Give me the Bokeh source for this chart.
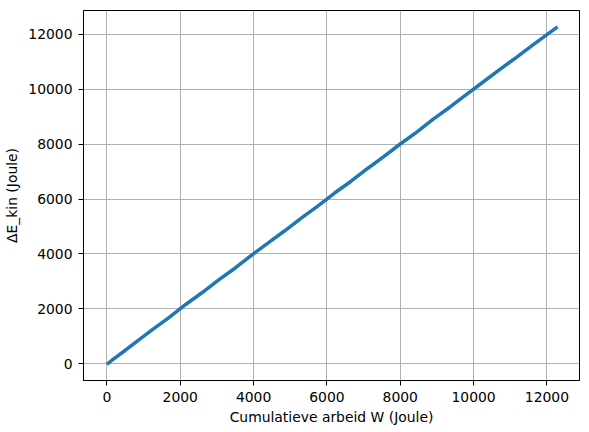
from bokeh.plotting import figure
from bokeh.models import FixedTicker, Range1d
from bokeh.embed import file_html
from bokeh.resources import INLINE

# Data (cumulative work W vs. change in kinetic energy)
W = [0, 160, 430, 800, 1250, 1700, 2150, 2600, 3050, 3500, 3950, 4400, 4850,
     5300, 5750, 6200, 6650, 7100, 7550, 8000, 8450, 8900, 9350, 9800, 10250,
     10700, 11150, 11600, 12000, 12290]
dE_kin = [-20, 150, 420, 795, 1255, 1690, 2160, 2595, 3055, 3490, 3960, 4405,
          4845, 5305, 5745, 6210, 6640, 7105, 7545, 8005, 8440, 8910, 9345,
          9800, 10255, 10705, 11145, 11600, 11990, 12270]
ticks = [0, 2000, 4000, 6000, 8000, 10000, 12000]
x_label = "Cumulatieve arbeid W (Joule)"
y_label = "ΔE_kin (Joule)"

FONT = "DejaVu Sans"
FS = "13.9px"

p = figure(width=583, height=430, output_backend="svg", toolbar_location=None,
           x_range=Range1d(-638, 12888), y_range=Range1d(-609, 12868),
           min_border_left=83, min_border_right=4, min_border_top=10,
           min_border_bottom=50)
p.background_fill_color = "white"
p.border_fill_color = "white"
p.outline_line_color = "black"
p.outline_line_width = 1
p.outline_line_alpha = 1

p.line(W, dE_kin, line_color="#1f77b4", line_width=3.5)

for ax in (p.xaxis[0], p.yaxis[0]):
    ax.ticker = FixedTicker(ticks=ticks)
    ax.minor_tick_line_color = None
    ax.major_tick_in = 0
    ax.major_tick_out = 5
    ax.major_tick_line_color = "black"
    ax.axis_line_color = "black"
    ax.major_label_text_font = FONT
    ax.major_label_text_font_size = FS
    ax.major_label_text_color = "black"
    ax.axis_label_text_font = FONT
    ax.axis_label_text_font_size = FS
    ax.axis_label_text_font_style = "normal"
    ax.axis_label_text_color = "black"
    ax.major_label_standoff = 6

p.xaxis.axis_label = x_label
p.yaxis.axis_label = y_label
p.xaxis.axis_label_standoff = 4
p.yaxis.axis_label_standoff = 5

for g in (p.xgrid[0], p.ygrid[0]):
    g.ticker = FixedTicker(ticks=ticks)
    g.grid_line_color = "#b0b0b0"
    g.grid_line_width = 1

open("out.html", "w").write(file_html(p, INLINE))
